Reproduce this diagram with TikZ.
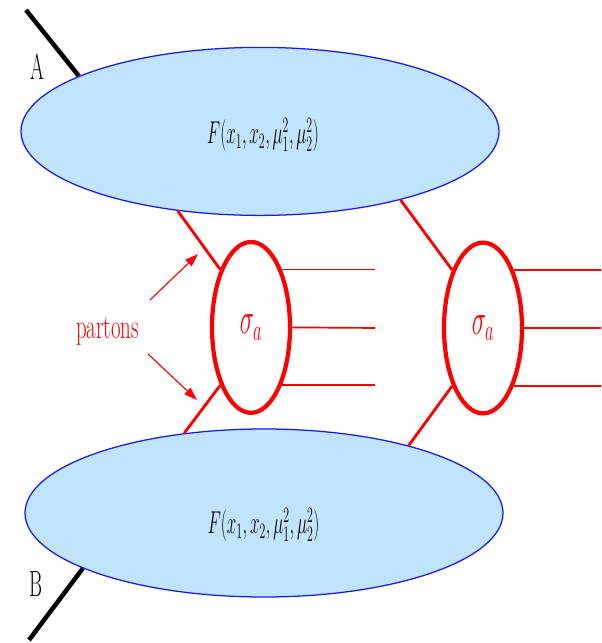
\documentclass[tikz,border=0pt]{standalone}
\usepackage{amsmath,amssymb}
\usepackage{xcolor}
\usepackage{graphicx}
\definecolor{textcolor}{RGB}{0,0,0}
\definecolor{blobfill}{RGB}{192,228,254}
\definecolor{blobline}{RGB}{25,25,250}
\definecolor{partoncolor}{RGB}{255,0,0}
\usepackage{tikz}
\usetikzlibrary{arrows.meta,shapes.geometric}
\newcommand{\narrowtext}[3]{\scalebox{#1}[#2]{#3}}

\begin{document}
\begin{tikzpicture}[every node/.style={color=textcolor, inner sep=0pt},
  blob/.style={ellipse, draw=blobline, fill=blobfill, line width=0.9pt, minimum width=11.95cm, minimum height=4.2cm},
  hard/.style={ellipse, draw=partoncolor, line width=3pt, minimum width=1.95cm, minimum height=4.27cm},
  beam/.style={line width=3.2pt, color=black},
  parton/.style={line width=2pt, color=partoncolor},
  jet/.style={line width=1.2pt, color=partoncolor},
  pointer/.style={line width=0.8pt, color=partoncolor, -{Triangle[length=0.33cm, width=0.22cm]}}]
  \useasboundingbox (0,0) rectangle (15.025,16.075);
  \node[blob] (FA) at (6.5,12.79) {};
  \node[blob] (FB) at (6.6,3.25) {};
  \node (FAtext) at (6.575,12.7) {\narrowtext{0.7}{1.3}{\LARGE $F(x_1,x_2,\mu_1^2,\mu_2^2)$}};
  \node (FBtext) at (6.59,2.95) {\narrowtext{0.7}{1.3}{\LARGE $F(x_1,x_2,\mu_1^2,\mu_2^2)$}};
  \node[hard] (sigL) at (6.275,7.89) {\color{partoncolor}\narrowtext{0.82}{1.5}{\huge $\sigma_a$}};
  \node[hard] (sigR) at (12.075,7.875) {\color{partoncolor}\narrowtext{0.82}{1.5}{\huge $\sigma_a$}};
  \node (labA) at (0.94,14.42) {\narrowtext{0.82}{1.5}{\LARGE A}};
  \node (labB) at (0.91,1.47) {\narrowtext{0.82}{1.5}{\LARGE B}};
  \node (partons) at (2.69,7.8) {\color{partoncolor}\narrowtext{0.86}{1.44}{\LARGE partons}};
  \coordinate (endA) at (0.65,15.825);
  \coordinate (endB) at (0.725,0.075);
  \coordinate (outL) at (9.375,7.875);
  \coordinate (outR) at (15.025,7.875);
  \coordinate (ptrup) at (3.75,8.575);
  \coordinate (ptrupend) at (4.95,9.725);
  \coordinate (ptrdown) at (3.7,7.225);
  \coordinate (ptrdownend) at (4.925,6.075);
  \draw[beam] (endA) -- (FA.163.7);
  \draw[beam] (endB) -- (FB.197);
  \draw[parton] (FA.-136) -- (sigL.118);
  \draw[parton] (FB.135) -- (sigL.-118);
  \draw[parton] (FA.-26) -- (sigR.118);
  \draw[parton] (FB.25) -- (sigR.-118);
  \draw[jet] (sigL.62) -- (sigL.62 -| outL);
  \draw[jet] (sigL.east) -- (outL);
  \draw[jet] (sigL.-62) -- (sigL.-62 -| outL);
  \draw[jet] (sigR.62) -- (sigR.62 -| outR);
  \draw[jet] (sigR.east) -- (outR);
  \draw[jet] (sigR.-62) -- (sigR.-62 -| outR);
  \draw[pointer] (ptrup) -- (ptrupend);
  \draw[pointer] (ptrdown) -- (ptrdownend);
\end{tikzpicture}
\end{document}
